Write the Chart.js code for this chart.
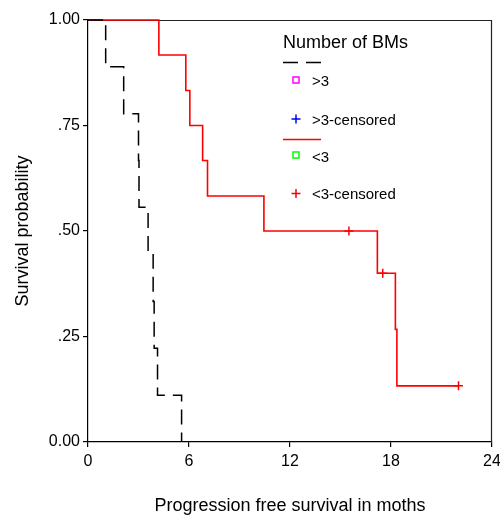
<!DOCTYPE html>
<html><head><meta charset="utf-8">
<script src="https://cdn.jsdelivr.net/npm/chart.js@4"></script>
<style>html,body{margin:0;padding:0;background:#fff}canvas{display:block}</style>
</head><body>
<canvas id="c" width="500" height="515"></canvas>
<script>
const groupGT3Times = [0, 1.05, 2.12, 3.0, 3.03, 3.57, 3.87, 3.93, 4.13, 5.56];
const groupGT3Surv  = [1, 0.889, 0.778, 0.667, 0.556, 0.444, 0.333, 0.222, 0.111, 0];
const groupLT3Times = [0, 4.21, 5.81, 6.05, 6.81, 7.10, 10.45, 15.5, 17.19, 17.51, 18.26, 18.35, 22.01];
const groupLT3Surv  = [1, 0.917, 0.833, 0.75, 0.667, 0.583, 0.5, 0.5, 0.4, 0.4, 0.267, 0.133, 0.133];
const censorLT3Times = [15.5, 17.51, 22.01];
const censorLT3Surv  = [0.5, 0.4, 0.133];
const xTickValues = [0, 6, 12, 18, 24];
const yTickValues = [0, 0.25, 0.5, 0.75, 1];
const yTickLabels = ['0.00', '.25', '.50', '.75', '1.00'];
const legendTitle = 'Number of BMs';
const legendLabels = ['>3', '>3-censored', '<3', '<3-censored'];

const FONT = '"Liberation Sans", Arial, sans-serif';

const framePlugin = {
  id: 'frame',
  beforeDatasetsDraw(chart) {
    const {ctx, chartArea: a} = chart;
    ctx.save();
    ctx.strokeStyle = '#222';
    ctx.lineWidth = 1.2;
    ctx.beginPath();
    ctx.moveTo(a.left, a.top + 0.5);
    ctx.lineTo(a.right - 0.5, a.top + 0.5);
    ctx.lineTo(a.right - 0.5, a.bottom);
    ctx.stroke();
    ctx.restore();
  }
};

const legendPlugin = {
  id: 'kmLegend',
  afterDraw(chart) {
    const {ctx, chartArea: a} = chart;
    const x0 = a.left + 195;
    const mx = x0 + 13;
    const tx = x0 + 29;
    ctx.save();
    ctx.fillStyle = '#000';
    ctx.textAlign = 'left';
    ctx.textBaseline = 'middle';
    ctx.font = '18px ' + FONT;
    ctx.fillText(legendTitle, x0, a.top + 23);
    ctx.lineWidth = 1.5;
    ctx.strokeStyle = '#000';
    ctx.setLineDash([15, 8]);
    ctx.beginPath(); ctx.moveTo(x0, a.top + 42.5); ctx.lineTo(x0 + 38, a.top + 42.5); ctx.stroke();
    ctx.setLineDash([]);
    ctx.strokeStyle = '#ff0000';
    ctx.beginPath(); ctx.moveTo(x0, a.top + 119.5); ctx.lineTo(x0 + 38, a.top + 119.5); ctx.stroke();
    ctx.lineWidth = 1.5;
    ctx.strokeStyle = '#ff00ff';
    ctx.strokeRect(mx - 3, a.top + 60 - 3, 6, 6);
    ctx.strokeStyle = '#00ff00';
    ctx.strokeRect(mx - 3, a.top + 135 - 3, 6, 6);
    const cross = (cx, cy, col) => {
      ctx.strokeStyle = col;
      ctx.beginPath();
      ctx.moveTo(cx - 4.5, cy); ctx.lineTo(cx + 4.5, cy);
      ctx.moveTo(cx, cy - 4.5); ctx.lineTo(cx, cy + 4.5);
      ctx.stroke();
    };
    cross(mx, a.top + 99, '#0000ff');
    cross(mx, a.top + 173.5, '#ff0000');
    ctx.font = '15px ' + FONT;
    ctx.fillStyle = '#000';
    ctx.fillText(legendLabels[0], tx, a.top + 62);
    ctx.fillText(legendLabels[1], tx, a.top + 100.5);
    ctx.fillText(legendLabels[2], tx, a.top + 138);
    ctx.fillText(legendLabels[3], tx, a.top + 175);
    ctx.restore();
  }
};

const toPts = (xs, ys) => xs.map((t, i) => ({x: t, y: ys[i]}));

new Chart(document.getElementById('c'), {
  type: 'line',
  data: {
    datasets: [
      {
        label: '<3-censored', type: 'scatter', order: 0,
        data: toPts(censorLT3Times, censorLT3Surv),
        showLine: false, pointStyle: 'cross', pointRadius: 4.5,
        borderColor: '#ff0000', backgroundColor: '#ff0000', pointBorderWidth: 1.5, clip: false
      },
      {
        label: '>3', order: 1,
        data: toPts(groupGT3Times, groupGT3Surv),
        borderColor: '#000', borderWidth: 1.5, borderDash: [15, 8],
        stepped: 'before', pointRadius: 0, fill: false, clip: false
      },
      {
        label: '<3', order: 2,
        data: toPts(groupLT3Times, groupLT3Surv),
        borderColor: '#ff0000', borderWidth: 1.6,
        stepped: 'before', pointRadius: 0, fill: false, clip: false
      }
    ]
  },
  options: {
    responsive: false, animation: false, devicePixelRatio: 1,
    layout: {padding: {top: 20, right: 8, left: 0, bottom: 0}},
    plugins: {legend: {display: false}, tooltip: {enabled: false}},
    scales: {
      x: {
        type: 'linear', min: 0, max: 24,
        afterBuildTicks(s) { s.ticks = xTickValues.map(v => ({value: v})); },
        ticks: {color: '#000', font: {size: 16, family: FONT}, padding: 5, maxRotation: 0, autoSkip: false},
        grid: {display: true, drawOnChartArea: false, drawTicks: true, tickLength: 5, color: '#000', lineWidth: 1.2},
        border: {display: true, color: '#000', width: 1.2},
        title: {display: true, text: 'Progression free survival in moths', color: '#000',
                font: {size: 18, family: FONT}, padding: {top: 0, bottom: -2}},
        afterFit(s) { s.height = 73; s.paddingLeft = 0; s.paddingRight = 0; }
      },
      y: {
        type: 'linear', min: 0, max: 1,
        afterBuildTicks(s) { s.ticks = yTickValues.map(v => ({value: v})); },
        ticks: {
          color: '#000', font: {size: 16, family: FONT}, padding: 3, autoSkip: false,
          callback(v) {
            const i = yTickValues.findIndex(t => Math.abs(t - v) < 1e-9);
            return i >= 0 ? yTickLabels[i] : '';
          }
        },
        grid: {display: true, drawOnChartArea: false, drawTicks: true, tickLength: 5, color: '#000', lineWidth: 1.2},
        border: {display: true, color: '#000', width: 1.2},
        title: {display: true, text: 'Survival probability', color: '#000',
                font: {size: 18, family: FONT}, padding: {top: 12, bottom: 0}},
        afterFit(s) { s.width = 88; s.paddingTop = 0; s.paddingBottom = 0; }
      }
    }
  },
  plugins: [framePlugin, legendPlugin]
});
</script>
</body></html>
